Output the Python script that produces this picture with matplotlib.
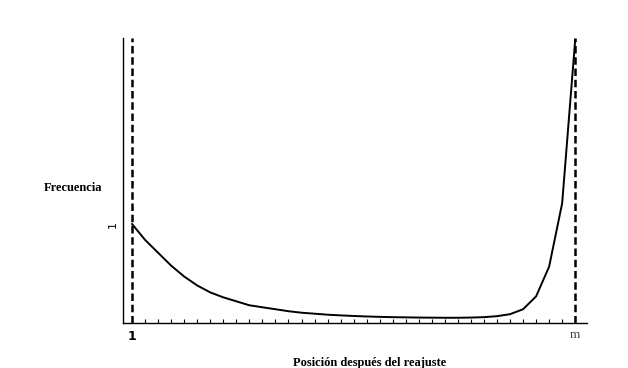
import numpy as np
import matplotlib
matplotlib.use("Agg")
import matplotlib.pyplot as plt

# Frecuencia por posición después del reajuste (m = 35 posiciones)
posiciones = np.arange(1, 36)
frecuencia = [1.00, 0.84, 0.71, 0.58, 0.47, 0.38, 0.31, 0.26, 0.22, 0.18,
              0.16, 0.14, 0.12, 0.105, 0.095, 0.085, 0.078, 0.072, 0.067, 0.063,
              0.060, 0.058, 0.056, 0.055, 0.054, 0.054, 0.056, 0.060, 0.070, 0.090,
              0.14, 0.27, 0.57, 1.21, 2.86]

fig = plt.figure(figsize=(6.28, 3.68), dpi=100)
ax = fig.add_axes([0.196, 0.122, 0.739, 0.775])

ax.plot(posiciones, frecuencia, color='black', linewidth=1.4)

# líneas verticales discontinuas en 1 y m
ax.axvline(posiciones[0], color='black', linestyle=(0, (3, 1.5)), linewidth=1.8)
ax.axvline(posiciones[-1], color='black', linestyle=(0, (3, 1.5)), linewidth=1.8)

ax.set_xlim(0.31, 35.92)
ax.set_ylim(0, 2.88)

ax.spines['top'].set_visible(False)
ax.spines['right'].set_visible(False)
ax.spines['left'].set_linewidth(1.0)
ax.spines['bottom'].set_linewidth(1.0)

# marcas en cada posición, solo etiquetas en 1 y m
ax.set_xticks(posiciones)
ax.set_xticklabels([''] * len(posiciones))
ax.tick_params(axis='x', direction='in', length=3, width=0.8, pad=2)
ax.text(posiciones[0], -0.07, '1', ha='center', va='top', fontsize=9,
        fontweight='bold', family='DejaVu Sans')
ax.text(posiciones[-1], -0.06, 'm', ha='center', va='top', fontsize=9.5,
        color='#444444', family='Liberation Serif')

ax.set_yticks([])
ax.text(-0.45, 1.0, '1', ha='center', va='center', fontsize=8, rotation=90,
        family='DejaVu Sans')

fig.text(73 / 628, 1 - 188 / 368, 'Frecuencia', ha='center', va='center',
         fontsize=9, fontweight='bold', family='Liberation Serif')
fig.text(370 / 628, 1 - 363 / 368, 'Posición después del reajuste', ha='center',
         va='center', fontsize=9, fontweight='bold', family='Liberation Serif')

fig.savefig('out.png', dpi=100)
